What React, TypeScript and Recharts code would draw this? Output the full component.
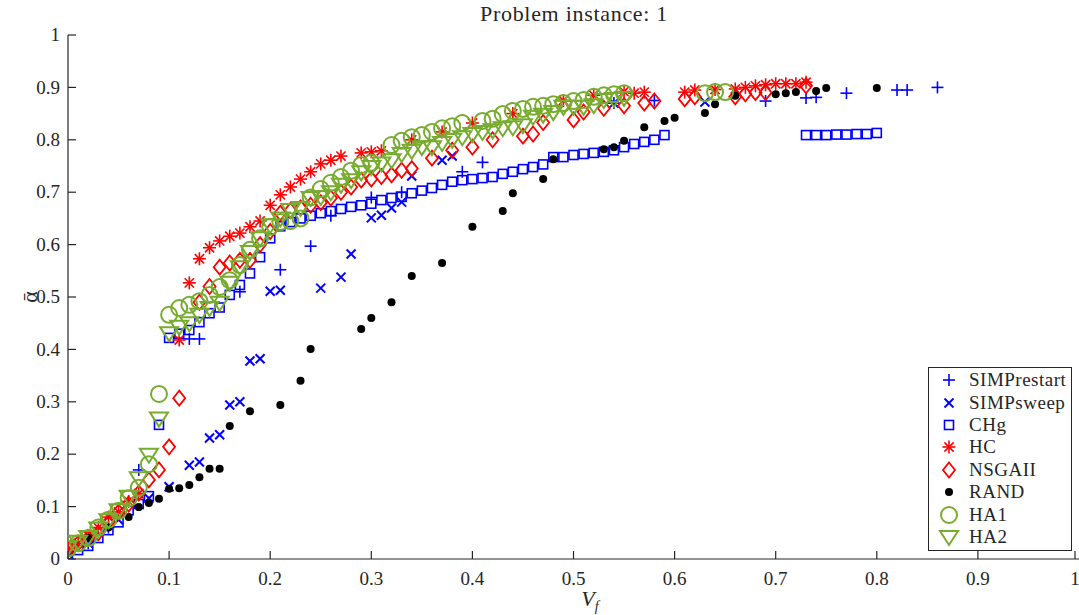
import React from "react";
import { ScatterChart, Scatter, XAxis, YAxis } from "recharts";

// values: [V_f, alpha-bar]
const simpRestart = [
  [0, 0.01], [0.02, 0.03], [0.04, 0.06], [0.07, 0.17], [0.12, 0.42], [0.13, 0.42],
  [0.17, 0.51], [0.21, 0.552], [0.24, 0.597], [0.26, 0.655], [0.3, 0.69], [0.33, 0.7],
  [0.39, 0.739], [0.41, 0.757], [0.54, 0.87], [0.58, 0.875], [0.69, 0.874], [0.73, 0.88],
  [0.74, 0.881], [0.77, 0.889], [0.82, 0.895], [0.83, 0.895], [0.86, 0.9],
];

const simpSweep = [
  [0, 0.01], [0.02, 0.03], [0.05, 0.075], [0.08, 0.116], [0.1, 0.138], [0.12, 0.179],
  [0.13, 0.185], [0.14, 0.231], [0.15, 0.237], [0.16, 0.294], [0.17, 0.3], [0.18, 0.378],
  [0.19, 0.382], [0.2, 0.511], [0.21, 0.513], [0.25, 0.517], [0.27, 0.538], [0.28, 0.582],
  [0.3, 0.651], [0.31, 0.656], [0.32, 0.67], [0.33, 0.681], [0.34, 0.731], [0.37, 0.761],
  [0.38, 0.769], [0.54, 0.87], [0.63, 0.872],
];

const chg = [
  [0, 0.008], [0.01, 0.017], [0.02, 0.025], [0.03, 0.04], [0.04, 0.055], [0.05, 0.07],
  [0.06, 0.093], [0.07, 0.105], [0.08, 0.12], [0.09, 0.256], [0.1, 0.422], [0.11, 0.43],
  [0.12, 0.437], [0.13, 0.452], [0.14, 0.469], [0.15, 0.48], [0.16, 0.504], [0.17, 0.523],
  [0.18, 0.545], [0.19, 0.576], [0.2, 0.612], [0.21, 0.635], [0.22, 0.643], [0.23, 0.65],
  [0.24, 0.655], [0.25, 0.66], [0.26, 0.664], [0.27, 0.668], [0.28, 0.672], [0.29, 0.675],
  [0.3, 0.678], [0.31, 0.685], [0.32, 0.689], [0.33, 0.691], [0.34, 0.698], [0.35, 0.703],
  [0.36, 0.708], [0.37, 0.714], [0.38, 0.72], [0.39, 0.723], [0.4, 0.725], [0.41, 0.727],
  [0.42, 0.729], [0.43, 0.735], [0.44, 0.739], [0.45, 0.744], [0.46, 0.748], [0.47, 0.753],
  [0.48, 0.767], [0.49, 0.767], [0.5, 0.771], [0.51, 0.773], [0.52, 0.775], [0.53, 0.777],
  [0.54, 0.78], [0.55, 0.786], [0.56, 0.792], [0.57, 0.796], [0.58, 0.8], [0.59, 0.809],
  [0.73, 0.809], [0.74, 0.809], [0.75, 0.809], [0.76, 0.81], [0.77, 0.81], [0.78, 0.811],
  [0.79, 0.811], [0.8, 0.813],
];

const hc = [
  [0, 0.02], [0.01, 0.03], [0.02, 0.045], [0.03, 0.06], [0.04, 0.08], [0.05, 0.09],
  [0.06, 0.11], [0.07, 0.125], [0.11, 0.418], [0.12, 0.527], [0.13, 0.573], [0.14, 0.594],
  [0.15, 0.607], [0.16, 0.616], [0.17, 0.622], [0.18, 0.634], [0.19, 0.645], [0.2, 0.675],
  [0.21, 0.695], [0.22, 0.71], [0.23, 0.725], [0.24, 0.739], [0.25, 0.754], [0.26, 0.761],
  [0.27, 0.769], [0.29, 0.775], [0.3, 0.777], [0.31, 0.779], [0.34, 0.8], [0.37, 0.815],
  [0.4, 0.832], [0.44, 0.85], [0.49, 0.875], [0.52, 0.885], [0.55, 0.892], [0.56, 0.889],
  [0.57, 0.891], [0.61, 0.891], [0.62, 0.895], [0.64, 0.896], [0.66, 0.897], [0.67, 0.9],
  [0.68, 0.903], [0.69, 0.905], [0.7, 0.907], [0.71, 0.907], [0.72, 0.907], [0.73, 0.91],
];

const nsga = [
  [0, 0.02], [0.01, 0.03], [0.02, 0.04], [0.03, 0.05], [0.04, 0.07], [0.05, 0.09],
  [0.06, 0.105], [0.07, 0.126], [0.08, 0.151], [0.09, 0.17], [0.1, 0.214], [0.11, 0.307],
  [0.13, 0.49], [0.14, 0.52], [0.15, 0.557], [0.16, 0.565], [0.17, 0.57], [0.18, 0.57],
  [0.19, 0.6], [0.2, 0.625], [0.21, 0.66], [0.22, 0.665], [0.23, 0.67], [0.24, 0.675],
  [0.25, 0.68], [0.26, 0.689], [0.27, 0.7], [0.28, 0.71], [0.29, 0.723], [0.3, 0.725],
  [0.31, 0.73], [0.32, 0.733], [0.33, 0.742], [0.34, 0.745], [0.36, 0.765], [0.38, 0.78],
  [0.4, 0.786], [0.42, 0.8], [0.45, 0.807], [0.46, 0.811], [0.47, 0.833], [0.5, 0.838],
  [0.51, 0.853], [0.53, 0.86], [0.55, 0.865], [0.57, 0.87], [0.58, 0.874], [0.61, 0.878],
  [0.62, 0.882], [0.66, 0.882], [0.67, 0.888], [0.68, 0.89], [0.69, 0.89], [0.73, 0.903],
];

const rand = [
  [0.02, 0.04], [0.04, 0.06], [0.06, 0.08], [0.07, 0.099], [0.08, 0.107], [0.09, 0.115],
  [0.1, 0.134], [0.11, 0.135], [0.12, 0.141], [0.13, 0.156], [0.14, 0.172], [0.15, 0.172],
  [0.16, 0.254], [0.18, 0.282], [0.21, 0.294], [0.23, 0.34], [0.24, 0.401], [0.29, 0.439],
  [0.3, 0.46], [0.32, 0.49], [0.34, 0.54], [0.37, 0.565], [0.4, 0.634], [0.43, 0.664],
  [0.44, 0.698], [0.47, 0.725], [0.48, 0.763], [0.53, 0.782], [0.54, 0.786], [0.55, 0.798],
  [0.57, 0.824], [0.59, 0.836], [0.6, 0.842], [0.63, 0.851], [0.64, 0.868], [0.66, 0.884],
  [0.7, 0.887], [0.71, 0.889], [0.72, 0.891], [0.74, 0.893], [0.75, 0.899], [0.8, 0.899],
];

const ha1 = [
  [0, 0.02], [0.01, 0.03], [0.02, 0.04], [0.03, 0.06], [0.04, 0.075], [0.05, 0.092],
  [0.06, 0.116], [0.07, 0.136], [0.08, 0.181], [0.09, 0.315], [0.1, 0.466], [0.11, 0.479],
  [0.12, 0.485], [0.13, 0.492], [0.14, 0.504], [0.15, 0.519], [0.16, 0.532], [0.17, 0.561],
  [0.18, 0.59], [0.19, 0.612], [0.2, 0.634], [0.21, 0.643], [0.22, 0.645], [0.23, 0.65],
  [0.24, 0.69], [0.25, 0.706], [0.26, 0.718], [0.27, 0.729], [0.28, 0.741], [0.29, 0.752],
  [0.3, 0.756], [0.32, 0.79], [0.33, 0.798], [0.34, 0.805], [0.35, 0.809], [0.36, 0.815],
  [0.37, 0.822], [0.38, 0.826], [0.39, 0.832], [0.41, 0.836], [0.42, 0.84], [0.43, 0.849],
  [0.44, 0.855], [0.45, 0.859], [0.46, 0.863], [0.47, 0.865], [0.48, 0.868], [0.49, 0.87],
  [0.5, 0.874], [0.51, 0.876], [0.52, 0.882], [0.53, 0.885], [0.54, 0.887], [0.55, 0.889],
  [0.63, 0.889], [0.64, 0.891], [0.65, 0.891],
];

const ha2 = [
  [0, 0.023], [0.01, 0.033], [0.02, 0.042], [0.03, 0.058], [0.04, 0.074], [0.05, 0.093],
  [0.06, 0.119], [0.07, 0.154], [0.08, 0.199], [0.09, 0.268], [0.1, 0.431], [0.11, 0.443],
  [0.12, 0.45], [0.13, 0.466], [0.14, 0.479], [0.15, 0.489], [0.16, 0.527], [0.17, 0.557],
  [0.18, 0.586], [0.19, 0.612], [0.2, 0.637], [0.21, 0.65], [0.22, 0.666], [0.23, 0.67],
  [0.24, 0.689], [0.25, 0.691], [0.26, 0.7], [0.27, 0.714], [0.28, 0.723], [0.29, 0.738],
  [0.3, 0.748], [0.31, 0.755], [0.32, 0.761], [0.33, 0.773], [0.34, 0.779], [0.35, 0.786],
  [0.36, 0.786], [0.37, 0.794], [0.38, 0.8], [0.39, 0.805], [0.4, 0.811], [0.41, 0.815],
  [0.42, 0.818], [0.43, 0.822], [0.44, 0.824], [0.45, 0.828], [0.46, 0.844], [0.47, 0.848],
  [0.48, 0.853], [0.49, 0.863], [0.5, 0.863], [0.51, 0.863], [0.52, 0.866], [0.53, 0.876],
  [0.54, 0.878], [0.55, 0.88],
];

const ticks = [0, 0.1, 0.2, 0.3, 0.4, 0.5, 0.6, 0.7, 0.8, 0.9, 1];

const BLUE = "#0000ff";
const RED = "#ff0000";
const GREEN = "#77ac30";
const AXIS = "#262626";
const FONT = "'Liberation Serif', serif";

type Kind = "plus" | "cross" | "square" | "star" | "diamond" | "dot" | "circle" | "tri";

const series: { name: string; kind: Kind; color: string; data: number[][] }[] = [
  { name: "SIMPrestart", kind: "plus", color: BLUE, data: simpRestart },
  { name: "SIMPsweep", kind: "cross", color: BLUE, data: simpSweep },
  { name: "CHg", kind: "square", color: BLUE, data: chg },
  { name: "HC", kind: "star", color: RED, data: hc },
  { name: "NSGAII", kind: "diamond", color: RED, data: nsga },
  { name: "RAND", kind: "dot", color: "#000000", data: rand },
  { name: "HA1", kind: "circle", color: GREEN, data: ha1 },
  { name: "HA2", kind: "tri", color: GREEN, data: ha2 },
];

function Mark({ kind, color, cx, cy }: { kind: Kind; color: string; cx: number; cy: number }) {
  if (cx == null || cy == null) return null;
  switch (kind) {
    case "plus":
      return (
        <g stroke={color} strokeWidth={1.6}>
          <line x1={cx - 6} y1={cy} x2={cx + 6} y2={cy} />
          <line x1={cx} y1={cy - 6} x2={cx} y2={cy + 6} />
        </g>
      );
    case "cross":
      return (
        <g stroke={color} strokeWidth={2}>
          <line x1={cx - 4.5} y1={cy - 4.5} x2={cx + 4.5} y2={cy + 4.5} />
          <line x1={cx - 4.5} y1={cy + 4.5} x2={cx + 4.5} y2={cy - 4.5} />
        </g>
      );
    case "square":
      return <rect x={cx - 4.5} y={cy - 4.5} width={9} height={9} fill="none" stroke={color} strokeWidth={1.6} />;
    case "star":
      return (
        <g stroke={color} strokeWidth={1.6}>
          <line x1={cx - 6.5} y1={cy} x2={cx + 6.5} y2={cy} />
          <line x1={cx} y1={cy - 6.5} x2={cx} y2={cy + 6.5} />
          <line x1={cx - 4.6} y1={cy - 4.6} x2={cx + 4.6} y2={cy + 4.6} />
          <line x1={cx - 4.6} y1={cy + 4.6} x2={cx + 4.6} y2={cy - 4.6} />
        </g>
      );
    case "diamond":
      return (
        <polygon
          points={`${cx},${cy - 7.5} ${cx + 6},${cy} ${cx},${cy + 7.5} ${cx - 6},${cy}`}
          fill="none"
          stroke={color}
          strokeWidth={1.8}
        />
      );
    case "dot":
      return <circle cx={cx} cy={cy} r={4} fill={color} />;
    case "circle":
      return <circle cx={cx} cy={cy} r={8} fill="none" stroke={color} strokeWidth={2} />;
    case "tri":
      return (
        <polygon
          points={`${cx - 9},${cy - 6} ${cx + 9},${cy - 6} ${cx},${cy + 8}`}
          fill="none"
          stroke={color}
          strokeWidth={2}
        />
      );
  }
  return null;
}

const BottomTick = (p: any) => (
  <g>
    <line x1={p.x} y1={p.y} x2={p.x} y2={p.y - 8} stroke={AXIS} strokeWidth={1.2} />
    <text x={p.x} y={p.y + 26} textAnchor="middle" fontSize={19} fontFamily={FONT} fill={AXIS}>
      {p.payload.value}
    </text>
  </g>
);

const TopTick = (p: any) => <line x1={p.x} y1={p.y} x2={p.x} y2={p.y + 8} stroke={AXIS} strokeWidth={1.2} />;

const LeftTick = (p: any) => (
  <g>
    <line x1={p.x} y1={p.y} x2={p.x + 8} y2={p.y} stroke={AXIS} strokeWidth={1.2} />
    <text x={p.x - 8} y={p.y} dy="0.33em" textAnchor="end" fontSize={19} fontFamily={FONT} fill={AXIS}>
      {p.payload.value}
    </text>
  </g>
);

const RightTick = (p: any) => <line x1={p.x} y1={p.y} x2={p.x - 8} y2={p.y} stroke={AXIS} strokeWidth={1.2} />;

const LegendBox = () => (
  <div
    style={{
      position: "absolute",
      left: 928,
      top: 367,
      width: 144,
      height: 184,
      border: `1.3px solid ${AXIS}`,
      background: "#fff",
      boxSizing: "border-box",
      paddingTop: 1,
      fontFamily: FONT,
      fontSize: 19,
      letterSpacing: 0.5,
      color: AXIS,
    }}
  >
    {series.map((s) => (
      <div key={s.name} style={{ display: "flex", alignItems: "center", height: 22.4, whiteSpace: "nowrap" }}>
        <svg width={40} height={22} style={{ flex: "none" }}>
          <Mark kind={s.kind} color={s.color} cx={20} cy={11} />
        </svg>
        <span>{s.name}</span>
      </div>
    ))}
  </div>
);

export default function App() {
  return (
    <div style={{ position: "absolute", left: 0, top: 0, width: 1079, height: 615, background: "#fff", overflow: "hidden" }}>
      <ScatterChart width={1079} height={615} margin={{ top: 35, right: 0, bottom: 0, left: 0 }}>
        <XAxis
          xAxisId="b"
          type="number"
          dataKey="x"
          domain={[0, 1]}
          ticks={ticks}
          height={56}
          tickSize={0}
          tickMargin={0}
          tick={<BottomTick />}
          stroke={AXIS}
          strokeWidth={1.2}
          allowDataOverflow
        />
        <XAxis
          xAxisId="t"
          orientation="top"
          type="number"
          domain={[0, 1]}
          ticks={ticks}
          height={0}
          tickSize={0}
          tickMargin={0}
          tick={<TopTick />}
          stroke={AXIS}
          strokeWidth={1.2}
          allowDataOverflow
        />
        <YAxis
          yAxisId="l"
          type="number"
          dataKey="y"
          domain={[0, 1]}
          ticks={ticks}
          width={68}
          tickSize={0}
          tickMargin={0}
          tick={<LeftTick />}
          stroke={AXIS}
          strokeWidth={1.2}
          allowDataOverflow
        />
        <YAxis
          yAxisId="r"
          orientation="right"
          type="number"
          domain={[0, 1]}
          ticks={ticks}
          width={0}
          tickSize={0}
          tickMargin={0}
          tick={<RightTick />}
          stroke={AXIS}
          strokeWidth={1.2}
          allowDataOverflow
        />
        {series.map((s) => (
          <Scatter
            key={s.name}
            name={s.name}
            xAxisId="b"
            yAxisId="l"
            data={s.data.map(([x, y]) => ({ x, y }))}
            isAnimationActive={false}
            shape={(p: any) => <Mark kind={s.kind} color={s.color} cx={p.cx} cy={p.cy} />}
          />
        ))}
      </ScatterChart>
      <LegendBox />
      <div
        style={{
          position: "absolute",
          left: 574,
          top: 1,
          transform: "translateX(-50%)",
          fontFamily: FONT,
          fontSize: 22,
          letterSpacing: 0.7,
          color: AXIS,
          whiteSpace: "nowrap",
        }}
      >
        Problem instance: 1
      </div>
      <div
        style={{
          position: "absolute",
          left: 590,
          top: 586,
          transform: "translateX(-50%)",
          fontFamily: FONT,
          fontSize: 22,
          color: AXIS,
          whiteSpace: "nowrap",
        }}
      >
        <i>V</i>
        <sub style={{ fontSize: 14 }}>
          <i>f</i>
        </sub>
      </div>
      <div
        style={{
          position: "absolute",
          left: 30,
          top: 297,
          transform: "translate(-50%, -50%) rotate(-90deg)",
          fontFamily: FONT,
          fontSize: 22,
          color: AXIS,
          lineHeight: 1,
        }}
      >
        {"\u1FB1"}
      </div>
    </div>
  );
}
